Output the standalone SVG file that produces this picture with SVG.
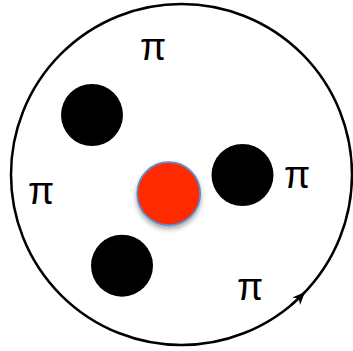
<svg xmlns="http://www.w3.org/2000/svg" width="353" height="351" viewBox="0 0 353 351">
<style>
.ring{fill:none;stroke:#000;stroke-width:2.5}
.dot{fill:#000}
.pi{font-family:"Liberation Sans",Arial,sans-serif;font-size:38px;fill:#000;text-anchor:middle}
</style>
<defs>
<filter id="sh" x="-30%" y="-30%" width="160%" height="170%">
<feDropShadow dx="0" dy="3" stdDeviation="2.5" flood-color="#000" flood-opacity="0.35"/>
</filter>
<marker id="ah" markerUnits="userSpaceOnUse" markerWidth="16" markerHeight="16" viewBox="-13 -7 15 14" refX="0" refY="0" orient="auto">
<path d="M0,0 L-12,-5 L-8.5,0 L-12,5 Z" fill="#000"/>
</marker>
</defs>
<g id="boundary">
<circle class="ring" cx="181.5" cy="174.5" r="170.5"/>
</g>
<g id="connectors">
<path d="M291.1,305.1 A170.5,170.5 0 0 0 305,292" fill="none" stroke="#000" stroke-width="2.5" marker-end="url(#ah)"/>
</g>
<g id="dot1"><circle class="dot" cx="92" cy="115" r="31"/></g>
<g id="dot2"><circle class="dot" cx="242.5" cy="175" r="31"/></g>
<g id="dot3"><circle class="dot" cx="122" cy="265.7" r="31"/></g>
<g id="red"><circle cx="168.7" cy="193.7" r="31.5" fill="#ff2a00" stroke="#5b8fd0" stroke-width="1.8" filter="url(#sh)"/></g>
<g id="pi1"><text class="pi" x="153" y="60">π</text></g>
<g id="pi2"><text class="pi" x="41" y="204">π</text></g>
<g id="pi3"><text class="pi" x="297" y="188">π</text></g>
<g id="pi4"><text class="pi" x="250" y="300">π</text></g>
</svg>
